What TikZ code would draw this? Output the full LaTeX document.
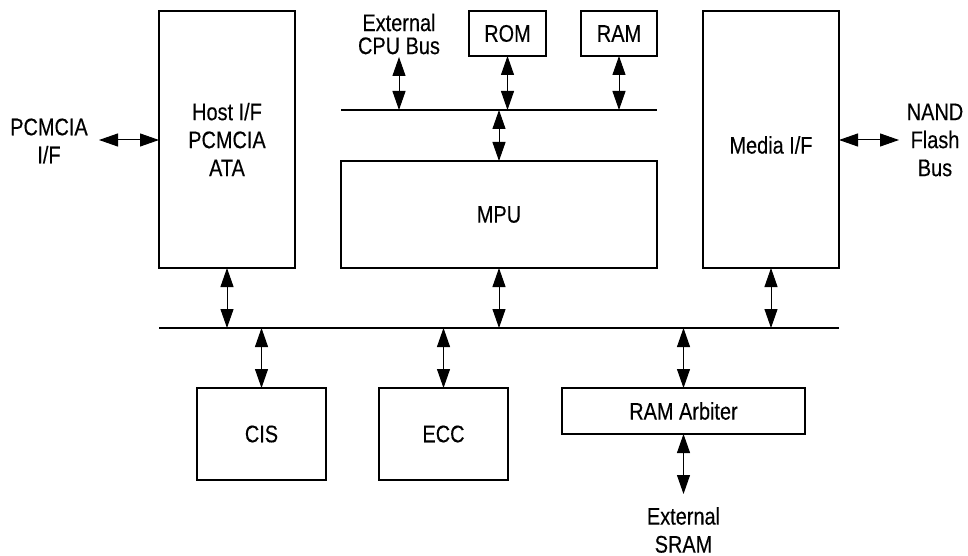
\documentclass[tikz,border=0pt]{standalone}
\usepackage{fontspec}
\setmainfont{Liberation Sans}[FakeStretch=0.83,FakeBold=0.3]
\usetikzlibrary{arrows.meta}
\begin{document}
\begin{tikzpicture}[x=1pt,y=-1pt,
  box/.style={draw, line width=1.3pt, inner sep=0pt, outer sep=0pt, align=center},
  lbl/.style={align=center, inner sep=0pt},
  bus/.style={line width=1.5pt},
  biarrow/.style={line width=1pt, {Triangle[length=19pt,width=13pt]}-{Triangle[length=19pt,width=13pt]}},
  every node/.style={font=\fontsize{24}{28}\selectfont}]
\useasboundingbox (0,0) rectangle (968,556);
% boxes
\node[box, minimum width=136pt, minimum height=257pt] (host) at (227,139.5) {Host I/F\\PCMCIA\\ATA};
\node[box, minimum width=77pt, minimum height=45pt] (rom) at (507.5,33.5) {ROM};
\node[box, minimum width=76pt, minimum height=45pt] (ram) at (619,33.5) {RAM};
\node[box, minimum width=316pt, minimum height=107pt] (mpu) at (499,214.5) {MPU};
\node[box, minimum width=136pt, minimum height=257pt] (media) at (771,139.5) {};
\node[lbl] (mediat) at (771,145) {Media I/F};
\node[box, minimum width=129pt, minimum height=92pt] (cis) at (261.5,434) {CIS};
\node[box, minimum width=129pt, minimum height=92pt] (ecc) at (443.5,434) {ECC};
\node[box, minimum width=243pt, minimum height=46pt] (arb) at (683.5,411) {RAM Arbiter};
% labels
\node[lbl] (pcm) at (49,141) {PCMCIA\\I/F};
\node[lbl, font=\fontsize{24}{23}\selectfont] (ext) at (399,34) {External\\CPU Bus};
\node[lbl] (nand) at (935,140) {NAND\\Flash\\Bus};
\node[lbl] (sram) at (683.5,530) {External\\SRAM};
% buses
\coordinate (ub1) at (341,110);
\coordinate (ub2) at (657,110);
\coordinate (lb1) at (159,328);
\coordinate (lb2) at (839,328);
\draw[bus] (ub1) -- (ub2);
\draw[bus] (lb1) -- (lb2);
% arrow end points
\coordinate (pcmA) at (99,140);
\coordinate (nandA) at (899,140);
\coordinate (extA) at (399,57);
\coordinate (extB) at (399,110);
\coordinate (romB) at (507.5,110);
\coordinate (ramB) at (619,110);
\coordinate (mpuU) at (499,110);
\coordinate (hostL) at (227,328);
\coordinate (mpuL) at (499,328);
\coordinate (mediaL) at (771,328);
\coordinate (cisL) at (261.5,328);
\coordinate (eccL) at (443.5,328);
\coordinate (arbL) at (683.5,328);
\coordinate (sramA) at (683.5,494);
% arrows
\draw[biarrow] (pcmA) -- (host.west |- pcmA);
\draw[biarrow] (media.east |- nandA) -- (nandA);
\draw[biarrow] (extA) -- (extB);
\draw[biarrow] (rom.south) -- (romB);
\draw[biarrow] (ram.south) -- (ramB);
\draw[biarrow] (mpuU) -- (mpu.north);
\draw[biarrow] (host.south) -- (hostL);
\draw[biarrow] (mpu.south) -- (mpuL);
\draw[biarrow] (media.south) -- (mediaL);
\draw[biarrow] (cisL) -- (cis.north);
\draw[biarrow] (eccL) -- (ecc.north);
\draw[biarrow] (arbL) -- (arb.north);
\draw[biarrow] (arb.south) -- (sramA);
\end{tikzpicture}
\end{document}
